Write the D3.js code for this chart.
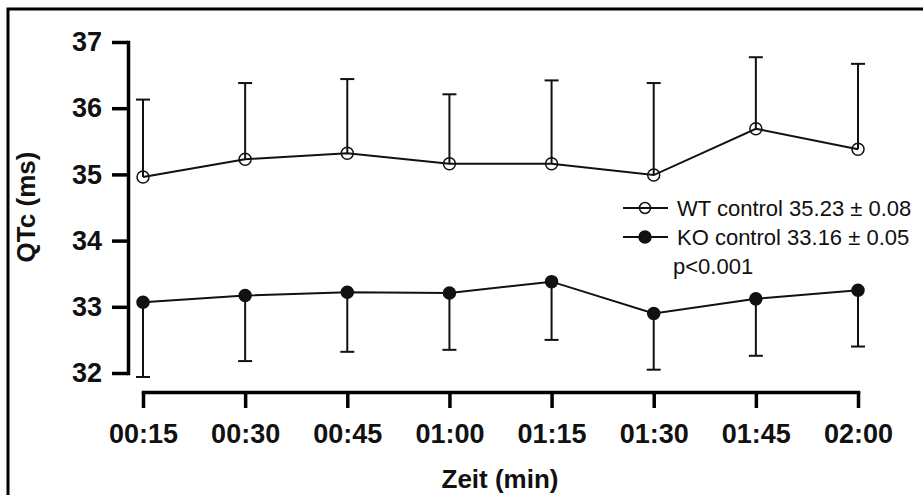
<!DOCTYPE html>
<html>
<head>
<meta charset="utf-8">
<script src="https://cdn.jsdelivr.net/npm/d3@7"></script>
<style>
    body { margin: 0; background: #fff; }
    svg text { font-family: "Liberation Sans", Arial, sans-serif; fill: #111; }
</style>
</head>
<body>
<div id="chart"></div>
<script>
var times = ["00:15", "00:30", "00:45", "01:00", "01:15", "01:30", "01:45", "02:00"];
var wtMean = [34.96, 35.23, 35.32, 35.16, 35.16, 34.99, 35.69, 35.38];
var wtSd = [1.17, 1.15, 1.12, 1.05, 1.26, 1.39, 1.08, 1.29];
var koMean = [33.07, 33.17, 33.22, 33.21, 33.38, 32.90, 33.12, 33.25];
var koSd = [1.13, 0.99, 0.90, 0.86, 0.88, 0.85, 0.86, 0.85];
var yTicks = [32, 33, 34, 35, 36, 37];
var legendLabels = ["WT control 35.23 \u00b1 0.08", "KO control 33.16 \u00b1 0.05"];
var pText = "p<0.001";

var width = 923,
    height = 495;

var svg = d3.select("#chart")
    .append("svg")
    .attr("width", width)
    .attr("height", height);

// frame (only top and left edges show in the picture)
svg.append("rect")
    .attr("x", 8)
    .attr("y", 9)
    .attr("width", 1000)
    .attr("height", 600)
    .attr("fill", "none")
    .attr("stroke", "#000")
    .attr("stroke-width", 3);

var x = d3.scalePoint()
    .domain(times)
    .range([143, 858]);

var y = d3.scaleLinear()
    .domain([32, 37])
    .range([373, 42]);

var yAxis = svg.append("g")
    .attr("transform", "translate(128,0)")
    .call(d3.axisLeft(y).tickValues(yTicks).tickFormat(d3.format("d")).tickSize(16).tickSizeOuter(0).tickPadding(10));

var xAxis = svg.append("g")
    .attr("transform", "translate(0,392)")
    .call(d3.axisBottom(x).tickSize(16).tickSizeOuter(0).tickPadding(16));

[yAxis, xAxis].forEach(function(ax) {
    ax.selectAll("path, line").attr("stroke", "#000").attr("stroke-width", 3.5);
    ax.selectAll("text")
        .attr("font-size", 27)
        .attr("font-weight", "bold")
        .attr("fill", "#111")
        .style("font-family", "'Liberation Sans', Arial, sans-serif");
});
yAxis.select(".domain").attr("stroke-linecap", "square");
xAxis.select(".domain").attr("stroke-linecap", "square");

svg.append("text")
    .attr("transform", "translate(35,207) rotate(-90)")
    .attr("text-anchor", "middle")
    .attr("font-size", 26)
    .attr("font-weight", "bold")
    .text("QTc (ms)");

svg.append("text")
    .attr("x", 500)
    .attr("y", 488)
    .attr("text-anchor", "middle")
    .attr("font-size", 26)
    .attr("font-weight", "bold")
    .text("Zeit (min)");

var series = [
    { mean: wtMean, sd: wtSd, dir: 1, open: true },
    { mean: koMean, sd: koSd, dir: -1, open: false }
];

var line = d3.line()
    .x(function(d) { return x(d.t); })
    .y(function(d) { return y(d.v); });

series.forEach(function(s) {
    var pts = times.map(function(t, i) {
        return { t: t, v: s.mean[i], e: s.mean[i] + s.dir * s.sd[i] };
    });
    var g = svg.append("g");

    g.selectAll("line.bar")
        .data(pts)
        .enter()
        .append("line")
        .attr("x1", function(d) { return x(d.t); })
        .attr("x2", function(d) { return x(d.t); })
        .attr("y1", function(d) { return y(d.v); })
        .attr("y2", function(d) { return y(d.e); })
        .attr("stroke", "#111")
        .attr("stroke-width", 2);

    g.selectAll("line.cap")
        .data(pts)
        .enter()
        .append("line")
        .attr("x1", function(d) { return x(d.t) - 7; })
        .attr("x2", function(d) { return x(d.t) + 7; })
        .attr("y1", function(d) { return y(d.e); })
        .attr("y2", function(d) { return y(d.e); })
        .attr("stroke", "#111")
        .attr("stroke-width", 2);

    g.append("path")
        .datum(pts)
        .attr("d", line)
        .attr("fill", "none")
        .attr("stroke", "#111")
        .attr("stroke-width", 2);

    g.selectAll("circle")
        .data(pts)
        .enter()
        .append("circle")
        .attr("cx", function(d) { return x(d.t); })
        .attr("cy", function(d) { return y(d.v); })
        .attr("r", 6)
        .attr("fill", s.open ? "none" : "#111")
        .attr("stroke", "#111")
        .attr("stroke-width", 1.5);
});

// legend
var legend = svg.append("g");
legendLabels.forEach(function(label, i) {
    var ly = 208 + i * 29;
    legend.append("line")
        .attr("x1", 623).attr("x2", 668)
        .attr("y1", ly).attr("y2", ly)
        .attr("stroke", "#111")
        .attr("stroke-width", 2);
    legend.append("circle")
        .attr("cx", 645).attr("cy", ly)
        .attr("r", i == 0 ? 5.5 : 6)
        .attr("fill", i == 0 ? "none" : "#111")
        .attr("stroke", "#111")
        .attr("stroke-width", 1.5);
    legend.append("text")
        .attr("x", 677)
        .attr("y", ly + 8)
        .attr("font-size", 22)
        .text(label);
});
legend.append("text")
    .attr("x", 673)
    .attr("y", 274)
    .attr("font-size", 22)
    .text(pText);
</script>
</body>
</html>
